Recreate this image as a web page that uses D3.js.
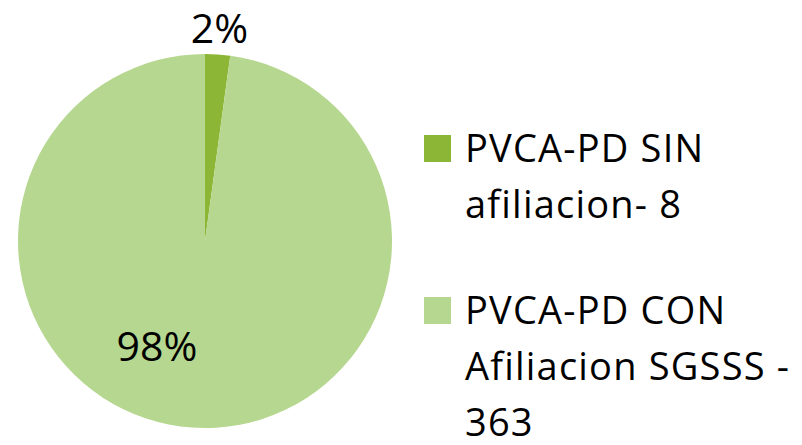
<!DOCTYPE html>
<html>
<head>
<meta charset="utf-8">
<script src="https://cdn.jsdelivr.net/npm/d3@7"></script>
<style>
  body { margin: 0; background: #fff; }
  svg { display: block; font-family: "Open Sans", sans-serif; }
</style>
</head>
<body>
<svg id="chart"></svg>
<script>
const categories = ["PVCA-PD SIN afiliacion- 8", "PVCA-PD CON Afiliacion SGSSS - 363"];
const legendLines = [["PVCA-PD SIN", "afiliacion- 8"], ["PVCA-PD CON", "Afiliacion SGSSS -", "363"]];
const values = [8, 363];
const colors = ["#8cb635", "#b6d78f"];

const width = 802, height = 445;
const svg = d3.select("#chart").attr("width", width).attr("height", height);

const cx = 205, cy = 241, radius = 187;
const total = d3.sum(values);

const pie = d3.pie().sort(null).value(d => d);
const arcs = pie(values);
const arc = d3.arc().innerRadius(0).outerRadius(radius);

const g = svg.append("g").attr("transform", `translate(${cx},${cy})`);
g.selectAll("path")
    .data(arcs)
    .join("path")
        .attr("d", arc)
        .attr("fill", (d, i) => colors[i]);

// label placement: small slice outside, big slice inside (best fit)
const labelPos = [{r: 213, shift: 0}, {r: 116, shift: 0.36}];
g.selectAll("text.pct")
    .data(arcs)
    .join("text")
        .attr("class", "pct")
        .attr("transform", (d, i) => {
            const a = (d.startAngle + d.endAngle) / 2 + labelPos[i].shift;
            const r = labelPos[i].r;
            return `translate(${Math.sin(a) * r},${-Math.cos(a) * r})`;
        })
        .attr("text-anchor", "middle")
        .attr("dy", "0.36em")
        .style("font-size", "41px")
        .style("fill", "#000")
        .text(d => d3.format(".0%")(d.value / total));

// legend
const legend = svg.append("g").attr("transform", "translate(424,135)");
const item = legend.selectAll("g")
    .data(categories)
    .join("g")
        .attr("transform", (d, i) => `translate(0,${i * 162})`);
item.append("rect")
    .attr("width", 27)
    .attr("height", 27)
    .attr("fill", (d, i) => colors[i]);
item.each(function(d, i) {
    const t = d3.select(this).append("text")
        .attr("x", 41)
        .attr("y", 27)
        .style("font-size", "38px")
        .style("letter-spacing", "1.2px")
        .style("fill", "#000");
    t.selectAll("tspan")
        .data(legendLines[i])
        .join("tspan")
            .attr("x", 41)
            .attr("dy", (l, j) => j === 0 ? 0 : 56)
            .text(l => l);
});
</script>
</body>
</html>
